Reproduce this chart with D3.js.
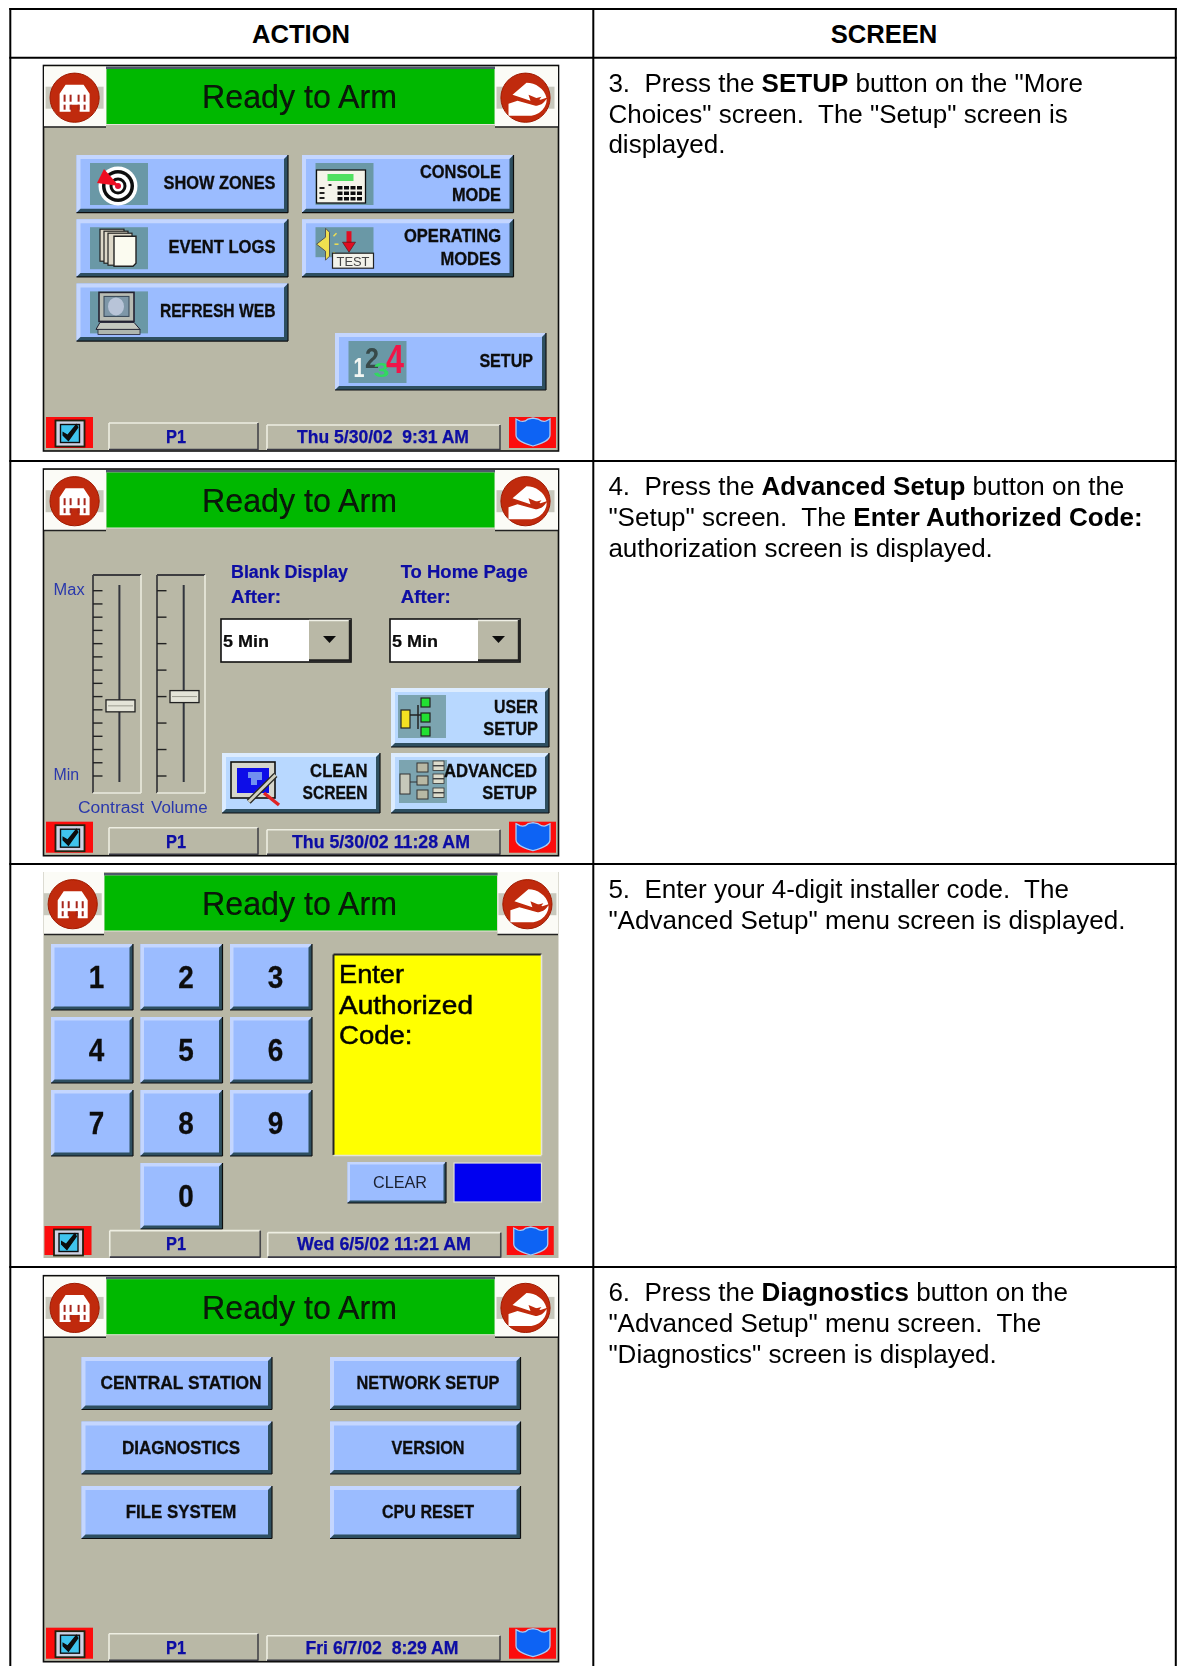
<!DOCTYPE html>
<html>
<head>
<meta charset="utf-8">
<title>Action / Screen</title>
<script src="https://cdn.jsdelivr.net/npm/d3@7"></script>
<style>
  html, body { margin: 0; background: #fff; }
  svg { display: block; }
  text { font-family: "Liberation Sans", Arial, sans-serif; white-space: pre; }
</style>
</head>
<body>
<div id="page"></div>
<script>
// table content
const HEADERS = ['ACTION', 'SCREEN'];
const STEP_LINES = [
  [[['3.  Press the ', 0], ['SETUP', 1], [' button on the "More', 0]],
   [['Choices" screen.  The "Setup" screen is', 0]],
   [['displayed.', 0]]],
  [[['4.  Press the ', 0], ['Advanced Setup', 1], [' button on the', 0]],
   [['"Setup" screen.  The ', 0], ['Enter Authorized Code:', 1]],
   [['authorization screen is displayed.', 0]]],
  [[['5.  Enter your 4-digit installer code.  The', 0]],
   [['"Advanced Setup" menu screen is displayed.', 0]]],
  [[['6.  Press the ', 0], ['Diagnostics', 1], [' button on the', 0]],
   [['"Advanced Setup" menu screen.  The', 0]],
   [['"Diagnostics" screen is displayed.', 0]]],
];

// screen content
const TITLE = 'Ready to Arm';
const ZONE = 'P1';
const DATES = ['Thu 5/30/02  9:31 AM', 'Thu 5/30/02 11:28 AM', 'Wed 6/5/02 11:21 AM', 'Fri 6/7/02  8:29 AM'];
const MENU_LABELS = [['SHOW ZONES'], ['CONSOLE', 'MODE'], ['EVENT LOGS'], ['OPERATING', 'MODES'], ['REFRESH WEB']];
const MENU_ICONS = ['target', 'console', 'logs', 'test', 'monitor'];
const SETUP_LABEL = 'SETUP';
const SLIDER_NAMES = ['Contrast', 'Volume'];
const SLIDER_TICKS = [15, 8];        // tick marks on each slider
const SLIDER_VALUES = [5.3, 3.0];    // thumb position, in tick steps from Min
const DROPDOWN_TITLES = [['Blank Display', 'After:'], ['To Home Page', 'After:']];
const DROPDOWN_VALUE = '5 Min';
const KEYPAD = ['1', '2', '3', '4', '5', '6', '7', '8', '9', '', '0'];
const PROMPT = ['Enter', 'Authorized', 'Code:'];
const DIAG_LABELS = ['CENTRAL STATION', 'NETWORK SETUP', 'DIAGNOSTICS', 'VERSION', 'FILE SYSTEM', 'CPU RESET'];

const C = {
  bg: '#b9b8a6', green: '#00b800', blue: '#9bbcff', blueLite: '#b8d8ff', iconBg: '#6b98a6',
  navy: '#0a0aa4', red: '#c02a08', ink: '#0c0c0c',
};

const svg = d3.select('#page').append('svg').attr('width', 1177).attr('height', 1666);
svg.append('defs').append('filter').attr('id', 'soft')
  .attr('x', '-2%').attr('y', '-2%').attr('width', '104%').attr('height', '104%')
  .append('feGaussianBlur').attr('stdDeviation', 0.45);

function rect(g, x, y, w, h, fill, stroke, sw) {
  return g.append('rect').attr('x', x).attr('y', y).attr('width', w).attr('height', h)
    .attr('fill', fill).attr('stroke', stroke || 'none').attr('stroke-width', sw || 0);
}
function poly(g, d, fill, stroke, sw) {
  return g.append('path').attr('d', d).attr('fill', fill)
    .attr('stroke', stroke || 'none').attr('stroke-width', sw || 0);
}
function seg(g, x1, y1, x2, y2, stroke, sw) {
  return g.append('line').attr('x1', x1).attr('y1', y1).attr('x2', x2).attr('y2', y2)
    .attr('stroke', stroke).attr('stroke-width', sw || 1);
}
// width pins the string to the measured length (the original is a bitmap font)
function label(g, str, x, y, o = {}) {
  const t = g.append('text').attr('x', x).attr('y', y)
    .attr('font-size', o.size || 17).attr('font-weight', o.weight || 400)
    .attr('fill', o.color || C.ink).attr('text-anchor', o.anchor || 'start')
    .text(str);
  if (o.width) t.attr('textLength', o.width).attr('lengthAdjust', 'spacingAndGlyphs');
  if (o.heavy) t.attr('stroke', o.color || C.ink).attr('stroke-width', o.heavy);
  return t;
}

function bevel(g, x, y, w, h, fill, d = 4) {
  const x2 = x + w, y2 = y + h;
  rect(g, x, y, w, h, fill);
  poly(g, `M${x} ${y}H${x2}L${x2 - d} ${y + d}H${x + d}V${y2 - d}L${x} ${y2}Z`, fill === C.blueLite ? '#dcecff' : '#c4d6ff');
  poly(g, `M${x2} ${y}V${y2}H${x}L${x + d} ${y2 - d}H${x2 - d}V${y + d}Z`, '#2f4f60');
  seg(g, x, y2, x2, y2, '#111', 1.2);
  seg(g, x2, y, x2, y2, '#111', 1.2);
}

// --- little pictures, all in a 58x42 icon box ---
const ICONS = {
  target(g) {
    rect(g, 0, 0, 58, 42, C.iconBg);
    [[19.5, '#fff'], [16, '#111'], [12.5, '#fff'], [8.5, '#111'], [5.5, '#fff'], [3, '#e01030']].forEach(([r, f]) => {
      g.append('circle').attr('cx', 28).attr('cy', 23).attr('r', r).attr('fill', f);
    });
    poly(g, 'M7 20L14 6L29 23Z', '#ee1020');
  },
  console(g) {
    rect(g, 0, 0, 58, 42, C.iconBg);
    rect(g, 1, 7, 49, 33, '#f4f4ea', '#111', 1.3);
    rect(g, 12, 11, 26, 7, '#50e060');
    d3.range(3).forEach(r => {
      rect(g, 4, 24 + r * 5, 5, 2, '#222');
      d3.range(4).forEach(c => rect(g, 22 + c * 6.5, 23 + r * 5.5, 5, 3.5, '#111'));
    });
    rect(g, 13, 21, 3, 2, '#222');
  },
  logs(g) {
    rect(g, 0, 0, 58, 42, C.iconBg);
    [[10, 2], [14, 4], [18, 6]].forEach(([x, y]) => rect(g, x, y, 24, 32, '#ddd8c8', '#222', 1.2));
    poly(g, 'M24 9H46V36L43 39H24Z', '#fbfbf0', '#222', 1.4);
  },
  test(g) {
    rect(g, 0, 0, 58, 30, C.iconBg);
    poly(g, 'M1 17L10 10V1L14 5V29L10 33V24Z', '#f0e050', '#555', 1);
    seg(g, 18, 9, 21, 6, '#f0e050', 1.5);
    seg(g, 19, 17, 23, 17, '#f0e050', 1.5);
    seg(g, 18, 25, 21, 28, '#f0e050', 1.5);
    rect(g, 31, 4, 5, 13, '#e01020');
    poly(g, 'M27 15H40L33.5 25Z', '#e01020', '#411', 0.6);
    rect(g, 17, 26, 41, 15, '#f2f2ea', '#222', 1.2);
    label(g, 'TEST', 37.5, 38.5, { size: 13, color: '#444', anchor: 'middle', width: 33 });
  },
  monitor(g) {
    rect(g, 0, 0, 58, 42, C.iconBg);
    rect(g, 9, 1, 35, 29, '#b8bcb4', '#223', 1.6);
    rect(g, 14, 5, 25, 20, '#7e97a8', '#345', 1);
    g.append('ellipse').attr('cx', 26).attr('cy', 15).attr('rx', 8).attr('ry', 9).attr('fill', '#b8c4d8');
    poly(g, 'M10 31H44L50 38H6Z', '#c4c8c0', '#223', 1);
    rect(g, 8, 38, 42, 5, '#aeb6ae', '#223', 0.8);
  },
  digits(g) {
    rect(g, 0, 0, 58, 42, C.iconBg);
    label(g, '1', 5, 36, { size: 27, weight: 700, color: '#f2f6f2', width: 11 });
    label(g, '2', 16.5, 27, { size: 30, weight: 700, color: '#374a4a', width: 14 });
    label(g, '3', 25, 36, { size: 21, weight: 700, color: '#30d860', width: 16 });
    label(g, '4', 37.5, 32, { size: 41, weight: 700, color: '#f01848', width: 18 });
  },
  userTree(g) {
    rect(g, 0, 0, 48, 43, '#7ca4b0');
    seg(g, 12, 20, 24, 20, '#222', 1.5);
    seg(g, 20, 10, 20, 34, '#222', 1.5);
    rect(g, 3, 15, 9, 18, '#f4e020', '#222', 1.2);
    [3, 18, 32].forEach(y => rect(g, 23, y, 9, 9, '#20e030', '#222', 1.2));
  },
  adminTree(g) {
    rect(g, 0, 0, 48, 43, '#7ca4b0');
    rect(g, 1, 14, 10, 20, '#c6c8ba', '#333', 1);
    [3, 16, 30].forEach(y => {
      rect(g, 18, y, 11, 9, '#b8b8a4', '#333', 1);
      [-2, 3].forEach(dy => rect(g, 34, y + dy, 11, 4.5, '#dcdccc', '#333', 0.8));
    });
    seg(g, 11, 22, 18, 22, '#333', 1);
  },
  clean(g) {
    rect(g, 0, 4, 44, 36, '#d6d6cc', '#111', 1.6);
    rect(g, 6, 10, 32, 25, '#1010e8');
    poly(g, 'M17 14H31V22H26V27H20V20H17Z', '#7090f0');
    seg(g, 33, 35, 48, 47, '#e02020', 3.4);
    seg(g, 17.7, 43.7, 44.5, 17, '#2a2a24', 5.5);
    seg(g, 17.7, 43.7, 44.5, 17, '#d0d0c0', 3);
  },
};

function iconAt(g, name, x, y) {
  ICONS[name](g.append('g').attr('transform', `translate(${x},${y})`));
}

function homeIcon(g, cx, cy) {
  rect(g, cx - 29, cy - 11, 58, 22, '#c8c8bc');
  g.append('circle').attr('cx', cx).attr('cy', cy).attr('r', 24.6).attr('fill', C.red)
    .attr('stroke', '#a01c04').attr('stroke-width', 1);
  const h = g.append('g').attr('transform', `translate(${cx},${cy})`);
  poly(h, 'M-15 -4L-9 -13H9L15 -4V14H5V7H-4V14H-15Z', '#fff');
  [-11, -5, 3, 9].forEach(x => rect(h, x, -3, 2, 7, '#a8261a'));
  [-11, -5, 3, 9].forEach(x => rect(h, x, 7, 2, 5, '#a8261a'));
}
function backIcon(g, cx, cy) {
  rect(g, cx - 29, cy - 11, 58, 22, '#c8c8bc');
  g.append('circle').attr('cx', cx).attr('cy', cy).attr('r', 24.6).attr('fill', C.red)
    .attr('stroke', '#a01c04').attr('stroke-width', 1);
  const h = g.append('g').attr('transform', `translate(${cx},${cy})`);
  poly(h, 'M-13 -3L1 -15C10 -15 19 -9 21 0L15 2L3 -3L5 3Z', '#fff');
  poly(h, 'M8 1L16 -1L12 4Z', C.red);
  poly(h, 'M-17 6L-8 3L10 8C14 8 18 6 21 1C22 8 15 18 4 18H-17Z', '#fff');
}

function statusBar(g, bottom, date, dateWidth, dateCx, o = {}) {
  const dx = o.dx || 0, shift = o.shift || 0;
  const top = bottom - 33 + shift;
  rect(g, 46 + dx, top, 47, 31 - shift, '#fc0808');
  const cb = g.append('g').attr('transform', `translate(${55.5 + dx},${top + 3.5})`);
  rect(cb, 0, 0, 29, 26, '#cfd2e4', '#221', 1.8);
  rect(cb, 5, 4, 19, 18, '#40c4ee', '#111', 1.4);
  poly(cb, 'M7 11L12 14L21 3L23 7L13 21L7 15Z', '#080808');
  // zone and date wells
  const wells = [[109 - dx * 0.5, 149 + Math.abs(dx), bottom - 27 + shift * 0.3, 27],
                 [267 + dx * -0.5, 233, bottom - 25 + shift * 0.3, 25]];
  wells.forEach(([x, w, y, h]) => {
    seg(g, x, y + h, x, y, '#eeeee2', 1.6);
    seg(g, x, y, x + w, y, '#eeeee2', 1.6);
    seg(g, x + w, y, x + w, y + h, '#44444a', 1.6);
    seg(g, x, y + h - 0.5, x + w, y + h - 0.5, '#3a3a44', 1.6);
  });
  label(g, ZONE, 176, bottom - 7, { size: 18, weight: 700, color: C.navy, anchor: 'middle', width: 20, heavy: 0.25 });
  label(g, date, dateCx, bottom - 7, { size: 18, weight: 700, color: C.navy, anchor: 'middle', width: dateWidth, heavy: 0.25 });
  const sx = 509 - dx * -1.5;
  rect(g, sx, top, 47, 31 - shift, '#fc0808');
  const s = g.append('g').attr('transform', `translate(${sx + 7},${top + 1})`);
  poly(s, 'M0 1L4 3C7 4 10 3 12 1L17 0L22 1C25 3 28 4 30 3L34 1V17C34 23 24 26 17 28C10 26 0 23 0 17Z', '#0a64f4', '#a8ccf6', 1.3);
}

// frame, banner and the two round buttons shared by all four screens
function chrome(top, bottom, o = {}) {
  const g = svg.append('g').attr('filter', 'url(#soft)');
  rect(g, 43.5, top, 515, bottom - top, C.bg, o.open ? null : '#0c0c0c', o.open ? 0 : 1.6);
  const gx1 = o.gx1 || 106, gx2 = o.gx2 || 495, bandY = o.open ? top + 62 : top + 61;
  const y0 = o.open ? top : top + 1;
  rect(g, 44, y0, gx1 - 44, bandY - y0, '#fbfbf6');
  rect(g, gx2, y0, 558 - gx2, bandY - y0, '#fbfbf6');
  seg(g, 44, bandY + 0.5, gx1, bandY + 0.5, '#222', 1.4);
  seg(g, gx2, bandY + 0.5, 558, bandY + 0.5, '#222', 1.4);
  rect(g, gx1, top + 1, gx2 - gx1, 58.5, '#e6e6da');
  poly(g, `M${gx1} ${top + 1}H${gx2}V${top + 3.5}H${gx1}Z`, '#50586a');
  rect(g, gx1 + 0.5, top + 3.5, gx2 - gx1 - 1, 55, C.green);
  homeIcon(g, o.homeX || 74.6, top + 32.2);
  backIcon(g, o.backX || 525.5, top + 32.2);
  label(g, TITLE, 299.5, top + 42.8, { size: 34, width: 195, color: '#081408', anchor: 'middle', heavy: 0.2 });
  return g;
}

// grid helper: band scale with the button width and gap as measured
function band(start, size, gap, n) {
  return d3.scaleBand().domain(d3.range(n))
    .range([start, start + n * size + (n - 1) * gap]).paddingInner(gap / (size + gap));
}

// --- table ruling ---
const rowEdges = [9, 57.7, 461, 864, 1267];
const colEdges = [10.3, 593.3, 1175.8];
const rule = svg.append('g').attr('stroke', '#000').attr('stroke-width', 2);
rule.selectAll('line.h').data(rowEdges).join('line').attr('class', 'h')
  .attr('x1', colEdges[0] - 1).attr('x2', colEdges[2] + 1).attr('y1', d => d).attr('y2', d => d);
rule.selectAll('line.v').data(colEdges).join('line').attr('class', 'v')
  .attr('x1', d => d).attr('x2', d => d).attr('y1', rowEdges[0] - 1).attr('y2', 1666);

[301, 884].forEach((cx, i) => {
  label(svg, HEADERS[i], cx, 42.7, { size: 25.6, weight: 700, color: '#000', anchor: 'middle' });
});

const paper = svg.append('g').attr('filter', 'url(#soft)');
STEP_LINES.forEach((lines, r) => {
  lines.forEach((runs, l) => {
    const t = paper.append('text').attr('x', 608.4)
      .attr('y', rowEdges[r + 1] + 34 + l * 30.8).attr('font-size', 26).attr('fill', '#000');
    runs.forEach(([s, bold]) => t.append('tspan').attr('font-weight', bold ? 700 : 400).text(s));
  });
});

const BTN = { size: 18, weight: 700, heavy: 0.3 };

// --- screen 1: more choices ---
{
  const g = chrome(65.5, 451);
  const cols = band(76.5, 211.5, 14, 2), rows = band(155, 57.7, 6.5, 3);
  const widths = [[112], [81, 49], [107], [97, 60.5], [115.6]];
  MENU_LABELS.forEach((lines, i) => {
    const c = i % 2, r = Math.floor(i / 2), x = cols(c), y = rows(r);
    bevel(g, x, y, cols.bandwidth(), rows.bandwidth(), C.blue);
    iconAt(g, MENU_ICONS[i], x + 13.5, y + 8);
    const right = x + 199;
    if (lines.length === 1) {
      label(g, lines[0], right, y + 34, { ...BTN, anchor: 'end', width: widths[i][0] });
    } else {
      lines.forEach((s, l) => label(g, s, right, y + 23 + l * 22.5, { ...BTN, anchor: 'end', width: widths[i][l] }));
    }
  });
  bevel(g, 335, 333, 211, 57, C.blue);
  iconAt(g, 'digits', 348.5, 341);
  label(g, SETUP_LABEL, 533, 366.7, { ...BTN, anchor: 'end', width: 53.6 });
  statusBar(g, 450, DATES[0], 172, 383);
}

// --- screen 2: setup ---
{
  const g = chrome(469, 855.7);
  const boxX = [93, 157], trackX = [119.4, 183.7], thumbX = [106, 170];
  SLIDER_TICKS.forEach((n, i) => {
    const y = d3.scaleLinear().domain([0, n - 1]).range([776, 590.7]);
    const x = boxX[i];
    seg(g, x, 793, x, 575, '#3c3c40', 1.8);
    seg(g, x, 575, x + 48, 575, '#3c3c40', 1.8);
    seg(g, x + 48, 575, x + 48, 793, '#ebebdf', 1.6);
    seg(g, x, 793, x + 48, 793, '#ebebdf', 1.6);
    g.selectAll(null).data(d3.range(n)).join('line')
      .attr('x1', x).attr('x2', x + 9.5).attr('y1', d => y(d)).attr('y2', d => y(d))
      .attr('stroke', '#222').attr('stroke-width', 1.4);
    seg(g, trackX[i], 585, trackX[i], 782, '#30343c', 2);
    const ty = y(SLIDER_VALUES[i]);
    rect(g, thumbX[i], ty - 6, 29, 12, '#e4e4d8', '#222', 1.3);
    seg(g, thumbX[i] + 2, ty, thumbX[i] + 27, ty, '#9a9a8e', 1);
    label(g, SLIDER_NAMES[i], [78, 151][i], 812.7, { size: 16, color: '#2a38ac', width: [66, 56.6][i] });
  });
  label(g, 'Max', 53.6, 595, { size: 16, color: '#2a38ac', width: 31 });
  label(g, 'Min', 53.6, 780, { size: 16, color: '#2a38ac', width: 25.6 });

  const ddX = [221, 390], ddTitleX = [231, 400.7], titleW = [[117, 50], [127, 50]];
  DROPDOWN_TITLES.forEach((lines, i) => {
    lines.forEach((s, l) => label(g, s, ddTitleX[i], 578.3 + l * 24.4, { size: 17.5, weight: 700, color: C.navy, width: titleW[i][l], heavy: 0.2 }));
    const x = ddX[i], w = 130;
    rect(g, x, 619, w, 43, '#fff', '#111', 1.6);
    rect(g, x + 88, 620, w - 88, 41, C.bg);
    seg(g, x + 88, 620.5, x + w, 620.5, '#f0f0e6', 1.4);
    seg(g, x + 88, 660.5, x + w - 1, 660.5, '#222', 2.4);
    seg(g, x + w - 1, 620, x + w - 1, 661, '#222', 2.4);
    poly(g, `M${x + 102} 636H${x + 115}L${x + 108.5} 643Z`, '#111');
    label(g, DROPDOWN_VALUE, x + 2, 646.7, { size: 17, weight: 700, color: '#080808', width: 46, heavy: 0.2 });
  });

  bevel(g, 391, 688, 158, 59, C.blueLite);
  iconAt(g, 'userTree', 398, 695);
  label(g, 'USER', 538, 713, { ...BTN, anchor: 'end', width: 44 });
  label(g, 'SETUP', 538, 735, { ...BTN, anchor: 'end', width: 54.7 });
  bevel(g, 222, 753, 158, 60, C.blueLite);
  iconAt(g, 'clean', 231, 758);
  label(g, 'CLEAN', 367.5, 777, { ...BTN, anchor: 'end', width: 57.4 });
  label(g, 'SCREEN', 367.5, 799, { ...BTN, anchor: 'end', width: 65 });
  bevel(g, 391, 753, 158, 60, C.blueLite);
  iconAt(g, 'adminTree', 399, 760);
  label(g, 'ADVANCED', 537, 777, { ...BTN, anchor: 'end', width: 93 });
  label(g, 'SETUP', 537, 799, { ...BTN, anchor: 'end', width: 54.7 });
  statusBar(g, 854.7, DATES[1], 178, 381);
}

// --- screen 3: authorization keypad (no black frame on this capture) ---
{
  const g = chrome(872, 1258, { open: true, gx1: 104, gx2: 497.5, homeX: 72.7, backX: 527.4 });
  const cols = band(51, 82, 7.5, 3), rows = band(944, 66, 7, 4);
  KEYPAD.forEach((k, i) => {
    if (!k) return;
    const c = i % 3, r = Math.floor(i / 3), x = cols(c), y = rows(r);
    bevel(g, x, y, cols.bandwidth(), rows.bandwidth(), C.blue, 3.5);
    label(g, k, x + 45.5, y + 43.7, { size: 31, weight: 700, anchor: 'middle', width: 15.5, heavy: 0.3 });
  });
  rect(g, 333.5, 954.5, 208, 201, '#ffff00', null);
  seg(g, 333.5, 954.5, 541.5, 954.5, '#242428', 2);
  seg(g, 333.5, 954.5, 333.5, 1155, '#242428', 2);
  seg(g, 541.5, 954.5, 541.5, 1155, '#e4e4da', 1.6);
  seg(g, 333.5, 1155.5, 541.5, 1155.5, '#e4e4da', 1.6);
  const promptW = [65, 134, 73.5];
  PROMPT.forEach((s, l) => label(g, s, 339, 983 + l * 30.5, { size: 25.5, color: '#060600', width: promptW[l], heavy: 0.5 }));
  bevel(g, 347.5, 1162, 98.5, 41, C.blue, 2.5);
  label(g, 'CLEAR', 400, 1188, { size: 17, color: '#1a2030', anchor: 'middle', width: 54 });
  rect(g, 454, 1163, 87.5, 39, '#0404f0', '#e0e0d8', 1.2);
  statusBar(g, 1257, DATES[2], 174, 384, { dx: -1.5, shift: 2 });
}

// --- screen 4: advanced setup menu ---
{
  const g = chrome(1275.7, 1661.7);
  const cols = band(81.5, 190.5, 58, 2), rows = band(1357, 52.5, 12, 3);
  const cx = [181, 428], widths = [161, 143, 118, 73, 110.6, 92];
  DIAG_LABELS.forEach((s, i) => {
    const c = i % 2, r = Math.floor(i / 2);
    bevel(g, cols(c), rows(r), cols.bandwidth(), rows.bandwidth(), C.blue);
    label(g, s, cx[c], rows(r) + 32, { ...BTN, anchor: 'middle', width: widths[i] });
  });
  statusBar(g, 1660.7, DATES[3], 153, 382);
}
</script>
</body>
</html>
